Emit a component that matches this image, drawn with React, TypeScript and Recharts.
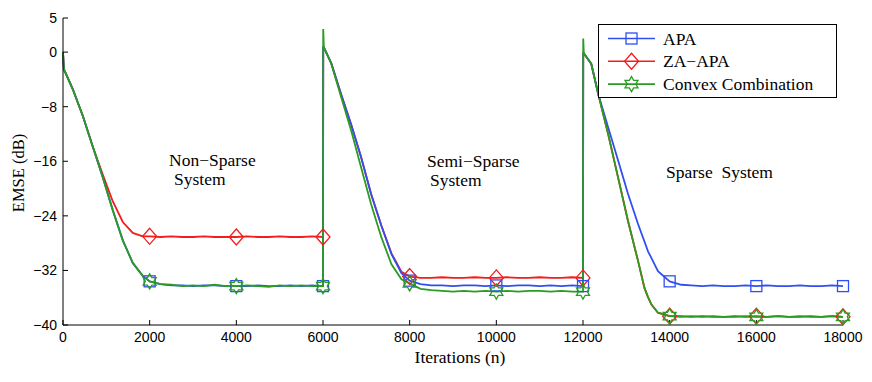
import React from 'react';
import { ComposedChart, Line, XAxis, YAxis } from 'recharts';

// iteration grid shared by the three curves (two extra samples at each system switch)
const iterations = [
  0, 20, 230, 460, 690, 920, 1150, 1380, 1610, 1840, 2000, 2250, 2500, 2750, 3000, 3250, 3500, 3750, 4000, 4250, 4500, 4750, 5000, 5250, 5500, 5750, 6000,
  6005, 6020, 6190, 6420, 6650, 6880, 7110, 7350, 7580, 7810, 8000, 8250, 8500, 8750, 9000, 9250, 9500, 9750, 10000, 10250, 10500, 10750, 11000, 11250, 11500, 11750, 12000,
  12005, 12020, 12190, 12350, 12580, 12810, 13040, 13270, 13420, 13500, 13580, 13730, 14000, 14270, 14500, 14750, 15000, 15250, 15500, 15750, 16000, 16250, 16500, 16750, 17000, 17250, 17500, 17750, 18000,
];

const apa = [
  0, -2.5, -5.5, -9.4, -13.9, -18.4, -23.2, -27.6, -30.9, -32.8, -33.6, -34.0, -34.2, -34.2, -34.3, -34.2, -34.2, -34.3, -34.3, -34.3, -34.2, -34.3, -34.3, -34.2, -34.3, -34.2, -34.3,
  0.7, 0.7, -1.6, -6.2, -10.6, -15.4, -20.8, -25.5, -29.6, -32.4, -33.5, -34.0, -34.2, -34.2, -34.3, -34.2, -34.2, -34.3, -34.2, -34.3, -34.2, -34.2, -34.3, -34.2, -34.3, -34.2, -34.3,
  -0.2, -0.2, -1.7, -6.1, -11.0, -15.9, -20.8, -25.2, -27.8, -29.2, -30.2, -32.1, -33.6, -34.1, -34.2, -34.3, -34.2, -34.3, -34.3, -34.2, -34.3, -34.2, -34.3, -34.3, -34.2, -34.3, -34.3, -34.2, -34.3,
];

const zaApa = [
  0, -2.5, -5.5, -9.4, -13.9, -18.0, -21.9, -24.9, -26.5, -27.0, -27.0, -27.1, -27.0, -27.1, -27.1, -27.0, -27.1, -27.1, -27.1, -27.0, -27.1, -27.1, -27.0, -27.1, -27.1, -27.0, -27.1,
  0.7, 0.7, -1.6, -6.2, -10.6, -15.4, -20.8, -25.5, -29.5, -32.2, -32.9, -33.1, -33.1, -33.0, -33.1, -33.1, -33.0, -33.1, -33.1, -33.0, -33.1, -33.1, -33.0, -33.1, -33.1, -33.0, -33.1,
  -0.2, -0.2, -1.7, -6.1, -12.0, -18.4, -24.8, -30.6, -34.6, -35.9, -37.0, -38.2, -38.7, -38.7, -38.8, -38.7, -38.8, -38.8, -38.7, -38.8, -38.7, -38.8, -38.7, -38.8, -38.8, -38.7, -38.8, -38.7, -38.8,
];

const convex = [
  0, -2.5, -5.5, -9.4, -13.9, -18.4, -23.2, -27.6, -30.9, -32.8, -33.6, -34.0, -34.1, -34.3, -34.2, -34.3, -34.1, -34.3, -34.3, -34.2, -34.3, -34.4, -34.2, -34.3, -34.2, -34.3, -34.3,
  3.4, 0.7, -1.7, -6.6, -11.5, -16.9, -22.3, -27.2, -31.1, -33.3, -33.9, -34.7, -34.9, -35.0, -35.1, -35.0, -35.1, -35.0, -35.1, -35.0, -35.1, -35.0, -35.0, -35.1, -35.0, -35.1, -35.1,
  2.0, -0.2, -1.7, -6.1, -12.0, -18.4, -24.8, -30.6, -34.6, -35.9, -37.0, -38.2, -38.7, -38.8, -38.7, -38.8, -38.7, -38.8, -38.8, -38.7, -38.8, -38.8, -38.7, -38.8, -38.7, -38.8, -38.8, -38.7, -38.8,
];

const markerIters = [2000, 4000, 6000, 8000, 10000, 12000, 14000, 16000, 18000];
const xTicks = [0, 2000, 4000, 6000, 8000, 10000, 12000, 14000, 16000, 18000];
const yTicks = [5, 0, -8, -16, -24, -32, -40];

const BLUE = '#2f4ff2';
const RED = '#f41c1c';
const GREEN = '#2a9c20';
const SERIF = "'Liberation Serif', 'Times New Roman', serif";
const SANS = "'Liberation Sans', Arial, sans-serif";

const data = iterations.map((it, i) => ({
  iter: it,
  apa: apa[i],
  za: zaApa[i],
  convex: convex[i],
}));

type Kind = 'square' | 'diamond' | 'hexagram';

const Marker = ({ kind, cx, cy, color }: { kind: Kind; cx: number; cy: number; color: string }) => {
  if (kind === 'square') {
    return <rect x={cx - 5.5} y={cy - 5.5} width={11} height={11} fill="none" stroke={color} strokeWidth={1.3} />;
  }
  if (kind === 'diamond') {
    const pts = `${cx},${cy - 8} ${cx + 7},${cy} ${cx},${cy + 8} ${cx - 7},${cy}`;
    return <polygon points={pts} fill="none" stroke={color} strokeWidth={1.3} />;
  }
  // six pointed star, point on top
  const pts: string[] = [];
  for (let k = 0; k < 12; k++) {
    const r = k % 2 === 0 ? 7.5 : 4.3;
    const a = (-90 + k * 30) * Math.PI / 180;
    pts.push(`${cx + r * Math.cos(a)},${cy + r * Math.sin(a)}`);
  }
  return <polygon points={pts.join(' ')} fill="none" stroke={color} strokeWidth={1.3} />;
};

const makeDot = (kind: Kind, color: string) => (props: any) => {
  const { cx, cy, payload, index } = props;
  if (!markerIters.includes(payload.iter)) return <g key={`d-${index}`} />;
  return <Marker key={`d-${index}`} kind={kind} cx={cx} cy={cy} color={color} />;
};

const minus = (v: number) => String(v).replace('-', '\u2212');

const legendRows: { label: string; kind: Kind; color: string }[] = [
  { label: 'APA', kind: 'square', color: BLUE },
  { label: 'ZA\u2212APA', kind: 'diamond', color: RED },
  { label: 'Convex Combination', kind: 'hexagram', color: GREEN },
];

const serifText = { fontFamily: SERIF, fontSize: 17.5, fill: '#000' };

export default function App() {
  const tickStyle = { fill: '#000', fontSize: 14, fontFamily: SANS };
  return (
    <div style={{ position: 'absolute', left: 0, top: 0, width: 872, height: 382, background: '#fff' }}>
      <ComposedChart width={872} height={382} data={data} margin={{ top: 18, right: 29, bottom: 27, left: 8 }}>
        <XAxis
          xAxisId="b"
          dataKey="iter"
          type="number"
          domain={[0, 18000]}
          ticks={xTicks}
          interval={0}
          height={30}
          stroke="#000"
          tickSize={-5}
          tickMargin={12}
          tick={tickStyle}
        />
        <XAxis
          xAxisId="t"
          orientation="top"
          dataKey="iter"
          type="number"
          domain={[0, 18000]}
          ticks={xTicks}
          interval={0}
          height={0}
          stroke="#000"
          tickSize={-5}
          tick={false}
        />
        <YAxis
          yAxisId="l"
          type="number"
          domain={[-40, 5]}
          ticks={yTicks}
          interval={0}
          width={55}
          stroke="#000"
          tickSize={-5}
          tickMargin={11}
          tick={tickStyle}
          tickFormatter={minus}
        />
        <YAxis
          yAxisId="r"
          orientation="right"
          type="number"
          domain={[-40, 5]}
          ticks={yTicks}
          interval={0}
          width={0}
          stroke="#000"
          tickSize={-5}
          tick={false}
        />
        {/* red first so blue covers it on the semi-sparse descent, green on top */}
        <Line xAxisId="b" yAxisId="l" type="linear" dataKey="za" stroke={RED} strokeWidth={1.8} dot={makeDot('diamond', RED)} activeDot={false} isAnimationActive={false} />
        <Line xAxisId="b" yAxisId="l" type="linear" dataKey="apa" stroke={BLUE} strokeWidth={1.8} dot={makeDot('square', BLUE)} activeDot={false} isAnimationActive={false} />
        <Line xAxisId="b" yAxisId="l" type="linear" dataKey="convex" stroke={GREEN} strokeWidth={1.8} dot={makeDot('hexagram', GREEN)} activeDot={false} isAnimationActive={false} />
      </ComposedChart>
      <svg width={872} height={382} style={{ position: 'absolute', left: 0, top: 0, pointerEvents: 'none' }}>
        <text x={169} y={166} style={serifText}>Non{'\u2212'}Sparse</text>
        <text x={174} y={185} style={serifText}>System</text>
        <text x={427} y={167} style={serifText}>Semi{'\u2212'}Sparse</text>
        <text x={430} y={186} style={serifText}>System</text>
        <text x={666} y={178} style={{ ...serifText, whiteSpace: 'pre' }}>Sparse  System</text>
        <text x={460} y={363} textAnchor="middle" style={serifText}>Iterations (n)</text>
        <text x={24} y={173} textAnchor="middle" transform="rotate(-90 24 173)" style={{ ...serifText, fontSize: 16.5 }}>EMSE (dB)</text>
        <rect x={598.5} y={24.5} width={238} height={73} fill="#fff" stroke="#000" strokeWidth={1} />
        {legendRows.map((r, i) => {
          const y = 38.5 + i * 22.8;
          return (
            <g key={r.label}>
              <line x1={608} x2={655} y1={y} y2={y} stroke={r.color} strokeWidth={1.6} />
              <Marker kind={r.kind} cx={631.5} cy={y} color={r.color} />
              <text x={663} y={y + 6} style={serifText}>{r.label}</text>
            </g>
          );
        })}
      </svg>
    </div>
  );
}
